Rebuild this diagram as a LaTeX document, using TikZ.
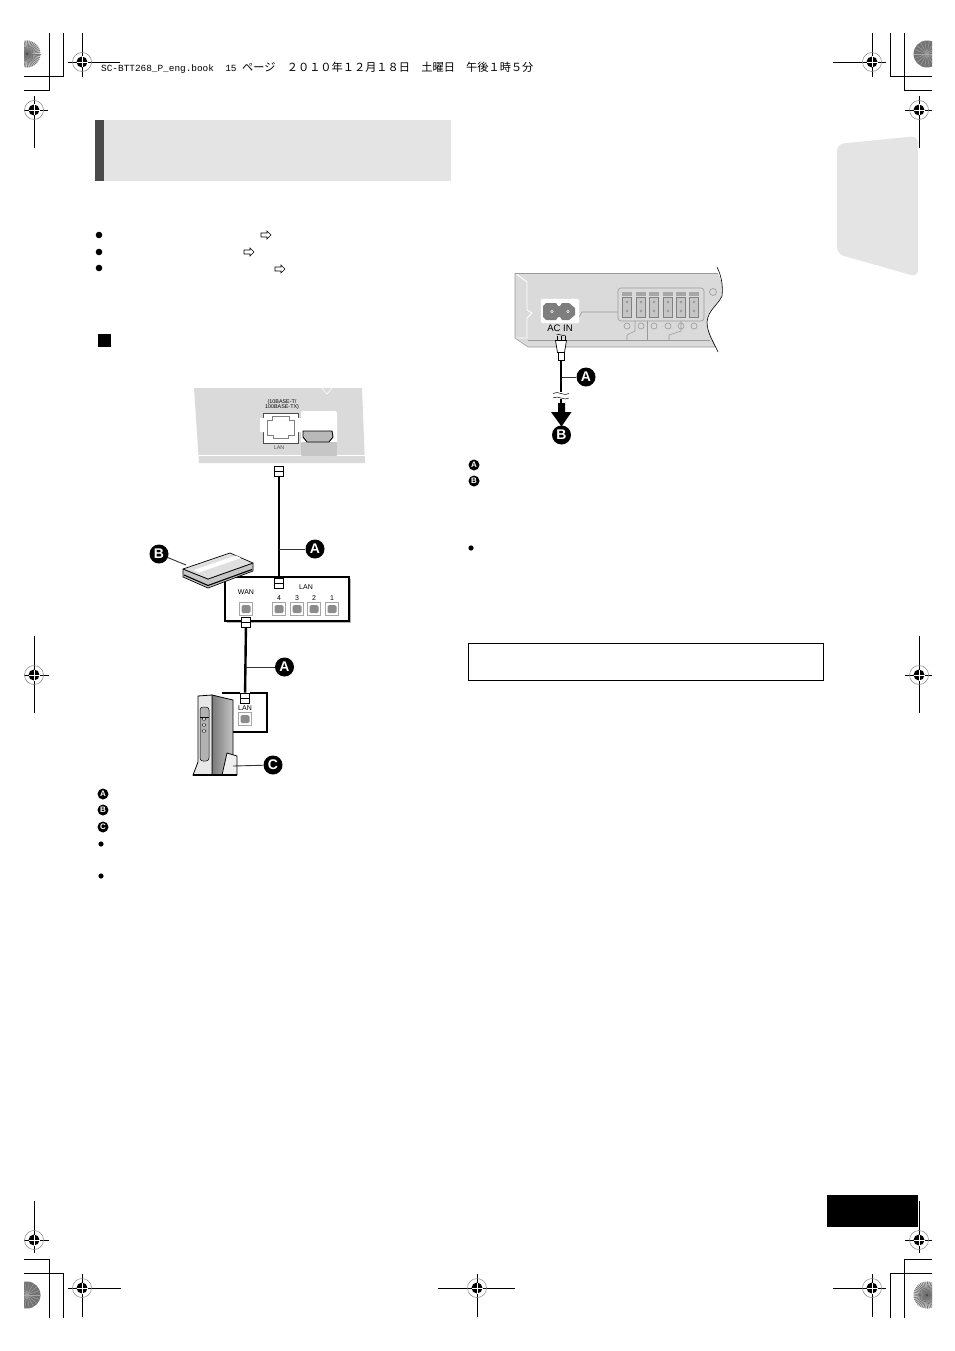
\documentclass[tikz,border=0pt]{standalone}
\usepackage{fontspec}
\setmainfont{Liberation Sans}
\newfontfamily\cjk{Noto Sans CJK JP}
\newfontfamily\headmono{Liberation Mono}
\usetikzlibrary{arrows,shapes,calc}
\definecolor{panelgray}{HTML}{DADADA}
\definecolor{headgray}{HTML}{E4E4E4}
\definecolor{bardark}{HTML}{4A4A4A}
\definecolor{sockgray}{HTML}{8C8C8C}
\tikzstyle{badge}=[circle, fill=black, text=white, inner sep=0pt
,minimum size=19pt, font=\bfseries\fontsize{14}{14}\selectfont
]
\tikzstyle{minibadge}=[circle, fill=black, text=white, inner sep=0pt
,minimum size=11pt, font=\bfseries\fontsize{8}{8}\selectfont
]
\tikzstyle{plug}=[rectangle, draw, fill=white, line width=0.8pt, inner sep=0pt
,minimum width=9pt, minimum height=10pt
]
\tikzstyle{port}=[rectangle, draw=gray!70, fill=white, line width=0.7pt, inner sep=0pt
,minimum size=12.5pt
]
\tikzstyle{cable} = [draw,line width=2.4pt,-]
\tikzstyle{leader} = [draw,line width=0.9pt,black!80,-]
\tikzstyle{regline} = [draw,line width=0.9pt,-]
\tikzstyle{cropline} = [draw,line width=1pt,-]
\tikzstyle{thin gray} = [draw,line width=0.6pt,gray!80,-]
\tikzstyle{tiny} = [inner sep=0pt, font=\fontsize{5.4}{5.4}\selectfont]
\tikzstyle{smalltext} = [inner sep=0pt, font=\fontsize{7}{7}\selectfont]
\tikzstyle{refarrow} = [draw,fill=white,line width=0.6pt,line join=miter]
\begin{document}
\begin{tikzpicture}[x=1pt,y=-1pt]
    \useasboundingbox (0,0) rectangle (954,1351);
    % Draw the gray fields first
    \fill[headgray] (104,120) rectangle (451,181);
    \fill[bardark] (95,120) rectangle (104,181);
    \fill[headgray,rounded corners=7pt] (837,144) -- (918,136) -- (918,277) -- (837,254) -- cycle;
    \fill[black] (827,1195) rectangle (918,1227);

    % Crop lines
    \foreach \a/\b/\c in {49/91/24, 63/77/24}
        \path[cropline] (\a,33) -- (\a,\b) -- (\c,\b);
    \foreach \a/\b in {890/77, 904/91}
        \path[cropline] (\a,33) -- (\a,\b) -- (932,\b);
    \foreach \a/\b in {49/1259, 63/1273}
        \path[cropline] (\a,1318) -- (\a,\b) -- (24,\b);
    \foreach \a/\b in {890/1273, 904/1259}
        \path[cropline] (\a,1318) -- (\a,\b) -- (932,\b);

    % Corner discs, cut off at the sheet edge
    \begin{scope}
        \clip (24,0) rectangle (932,1351);
        \foreach \cx/\cy in {27/54, 927/1295} {
            \fill[gray!35] (\cx,\cy) circle (13.5);
            \foreach \ang in {0,8,...,352}
                \draw[gray!90!black,line width=0.7pt] (\cx,\cy) -- ++(\ang:13.5);
            \fill[black!70] (\cx,\cy) circle (1.5);
        }
        \foreach \cx/\cy in {927/54, 27/1295} {
            \fill[black!55] (\cx,\cy) circle (13.5);
            \foreach \ang in {0,20,...,340}
                \draw[gray!70,line width=0.4pt] (\cx,\cy) -- ++(\ang:13.5);
        }
    \end{scope}

    % Registration marks
    \foreach \mx/\my/\mw/\me/\mn/\ms in {82/62/14/38/29/15, 34/110/10/14/14/38, 872/62/39/14/29/15, 919/110/14/13/14/38,
            34/675/10/15/39/38, 919/675/14/13/39/38, 34/1240/10/15/39/13, 919/1240/14/13/39/13,
            82/1288/14/39/14/29, 872/1288/39/14/14/29, 477/1288/39/38/14/29} {
        \path[regline] (\mx-\mw,\my) -- (\mx+\me,\my);
        \path[regline] (\mx,\my-\mn) -- (\mx,\my+\ms);
        \draw[gray,line width=0.5pt] (\mx,\my) circle (9.5);
        \fill (\mx,\my) circle (5.5);
        \draw[white,line width=0.5pt] (\mx-5.5,\my) -- (\mx+5.5,\my) (\mx,\my-5.5) -- (\mx,\my+5.5);
    }

    % Running head
    \node[anchor=west,inner sep=0pt] (runhead) at (101,67.5) {\fontsize{9.4}{11}\headmono SC-BTT268\_P\_eng.book~~15~\fontsize{11.2}{11}\cjk ページ\headmono\fontsize{9.4}{11}\selectfont~~\fontsize{11.2}{11}\cjk ２０１０年１２月１８日\headmono\fontsize{9.4}{11}\selectfont~~\fontsize{11.2}{11}\cjk 土曜日\headmono\fontsize{9.4}{11}\selectfont~~\fontsize{11.2}{11}\cjk 午後１時５分};

    % Bullets and small marks of the text column
    \foreach \pos in {(99,235), (99,252), (99,268)}
        \fill \pos circle (3.3);
    \foreach \pos in {(101,844), (101,876), (471,548)}
        \fill \pos circle (2.6);
    \fill (98,334) rectangle (111,347);
    \foreach \ax/\ay in {261/235, 244/252, 275/269}
        \path[refarrow] (\ax,\ay-2) -- (\ax+6,\ay-2) -- (\ax+6,\ay-4) -- (\ax+10,\ay) -- (\ax+6,\ay+4) -- (\ax+6,\ay+2) -- (\ax,\ay+2) -- cycle;

    % The player's rear panel
    \fill[panelgray] (194,388) -- (362,388) -- (365,463) -- (199,463) -- cycle;
    \draw[white,line width=1pt] (198,455) -- (365,455);
    \draw[white,line width=0.6pt] (322,388) -- (327,394) -- (332,388);
    \fill[white,rounded corners=2pt] (301,411) rectangle (337,456);
    \fill[gray!45,rounded corners=1pt] (301,442) rectangle (337,456);
    \filldraw[fill=gray!55,draw=black,line width=0.9pt] (303,431) -- (332,431) -- (333,437) -- (329,442) -- (307,442) -- (303,437) -- cycle;
    \node[rectangle,draw=black!70,fill=white,line width=0.6pt,inner sep=0pt,minimum width=35pt,minimum height=30pt] (lanjack) at (280.5,428) {};
    \fill[white] (260,418) rectangle (265,432) (296,418) rectangle (301,432);
    \draw[gray,line width=0.7pt] (267,435) -- (267,420) -- (272,420) -- (272,416) -- (289,416) -- (289,420) -- (294,420) -- (294,435) -- (288,435) -- (288,438) -- (273,438) -- (273,435) -- cycle;
    \node[tiny] (baset) at (282,402) {(10BASE-T/};
    \node[tiny] (basetx) at (282,407.5) {100BASE-TX)};
    \node[tiny,text=black!70] (lanlabel) at (279,448) {LAN};

    % Router panel
    \fill[gray!60] (226.5,578.5) rectangle (351,623);
    \node[rectangle,draw,fill=white,line width=1.3pt,inner sep=0pt,minimum width=124pt,minimum height=44pt] (router) at (287,599) {};
    \node[smalltext] (wanlabel) at (246,592.5) {WAN};
    \node[smalltext] (routerlan) at (306,587) {LAN};
    \foreach \pos/\name/\num in {{(279,609)/lan4/4}, {(297,609)/lan3/3}, {(314,609)/lan2/2}, {(332,609)/lan1/1}} {
        \node[port] (\name) at \pos {};
        \fill[sockgray,rounded corners=1.5pt] ($(\name.center)+(-4.5,-4)$) rectangle ($(\name.center)+(4.5,4)$);
        \node[smalltext] at ($(\name.center)+(0,-11)$) {\num};
    }
    \node[port] (wan) at (246,609) {};
    \fill[sockgray,rounded corners=1.5pt] (241.5,605) rectangle (250.5,613);

    % Modem
    \filldraw[fill=gray!45,draw=black,line width=0.7pt,line join=round] (183,569) -- (183,577) -- (208,588) -- (253,571) -- (253,563) -- (208,579) -- cycle;
    \draw[line width=1.1pt] (184,575) -- (208,585.5) -- (252,569.5);
    \filldraw[fill=gray!25,draw=black,line width=0.7pt,line join=round] (183,569) -- (230,553) -- (253,563) -- (208,579) -- cycle;
    \fill[white] (194,570) -- (236,555.5) -- (241,558) -- (199,572.5) -- cycle;

    % Cables with their plugs
    \foreach \pos/\name in {{(279,471)/plugA}, {(279,583)/plugB}, {(246,622)/plugC}, {(245,698)/plugD}} {
        \node[plug] (\name) at \pos {};
        \draw[line width=0.5pt] (\name.west) -- (\name.east);
    }
    \path[cable] (plugA) -- (plugB);
    \path[cable] (plugC) -- (plugD);
    \coordinate (tapA) at (279,549);
    \coordinate (tapC) at (245.5,667);

    % Wall unit with its LAN box
    \draw[line width=1.2pt] (240,693) -- (222,693);
    \draw[line width=1.2pt] (250,693) -- (267,693) -- (267,732) -- (226,732);
    \node[smalltext] (walllan) at (245,708) {LAN};
    \node[port] (wallport) at (245,719) {};
    \fill[sockgray,rounded corners=1.5pt] (240.5,715) rectangle (249.5,723);
    \shade[left color=gray!95!black,right color=gray!45,draw=black,line width=0.8pt] (212,695) -- (233,700) -- (233,775) -- (212,775) -- cycle;
    \filldraw[fill=gray!18,draw=black,line width=0.8pt] (198,696) -- (212,695) -- (212,775) -- (193,775) -- (198,762) -- cycle;
    \filldraw[fill=gray!60,draw=black,line width=0.5pt,rounded corners=3pt] (200,761) -- (200,707) -- (209,707) -- (209,761) -- cycle;
    \draw[line width=0.5pt] (200,717) -- (209,717);
    \foreach \oy in {719,725,731}
        \draw[line width=0.4pt,fill=gray!20] (204,\oy) ellipse (2 and 1.3);
    \filldraw[fill=gray!12,draw=black,line width=0.8pt] (227,753) -- (237,756) -- (237,775) -- (222,775) -- cycle;
    \draw[line width=1.1pt] (193,775) -- (237,775);
    \coordinate (tapB) at (186,565);
    \coordinate (tapW) at (233,766);

    % Amplifier rear panel
    \fill[panelgray] (515,273) -- (718,273) -- (722,283) -- (722,296) -- (708,315) -- (707,327) -- (716,347) -- (528,347) -- (515,338) -- cycle;
    \draw[white,line width=0.9pt] (515,273) -- (527,282) -- (527,310) -- (532,313) -- (527,318) -- (527,338) -- (515,338);
    \draw[thin gray] (515,273) -- (718,273);
    \draw[thin gray] (515,273) -- (515,338) -- (528,347) -- (716,347);
    \draw[thin gray] (528,340) -- (710,340);
    \draw[line width=0.6pt] (717,267) .. controls (722,277) and (723,287) .. (722,296) .. controls (718,305) and (708,310) .. (707,322) .. controls (707,333) and (714,343) .. (718,352);
    \draw[thin gray] (579,317) -- (582,312) -- (618,312);
    \draw[white,fill=white,rounded corners=1.5pt] (541,299) rectangle (579,323);
    \fill[sockgray!90!black] (546,303) -- (556,303) -- (558,306) -- (560,306) -- (562,303) -- (569,303) -- (575,308) -- (575,315) -- (569,320) -- (562,320) -- (560,317) -- (558,317) -- (556,320) -- (546,320) -- (543,317) -- (543,306) -- cycle;
    \foreach \pos in {(552,311.5), (568,311.5)}
        \draw[white,line width=0.5pt,fill=black!60] \pos circle (1.3);
    \node[inner sep=0pt,font=\fontsize{9.5}{9.5}\selectfont] (acin) at (560,328) {AC IN};
    \draw[thin gray,fill=panelgray,rounded corners=3pt] (618,288) rectangle (704,321);
    \foreach \tx in {627,641,654,668,681,694} {
        \fill[gray!70] (\tx-5,292) rectangle (\tx+5,296);
        \filldraw[fill=gray!45,draw=gray,line width=0.4pt] (\tx-4.5,297) rectangle (\tx+4.5,317);
        \draw[gray!90,line width=0.4pt,fill=white] (\tx,302) circle (1) (\tx,311) circle (1);
        \draw[thin gray] (\tx,326) circle (3);
    }
    \draw[thin gray] (713,292) circle (3.5);
    \draw[thin gray] (635,321) -- (635,331) -- (627,335) -- (627,340);
    \draw[thin gray] (647,321) -- (647,340);
    \draw[thin gray] (681,321) -- (681,331) -- (669,335) -- (669,340);

    % Mains lead
    \filldraw[fill=white,line width=0.7pt] (555.5,340.5) -- (566.5,340.5) -- (564.5,352.5) -- (557.5,352.5) -- cycle;
    \draw[line width=0.7pt] (557,340.5) -- (557,336) (561,340.5) -- (561,336) (565,340.5) -- (565,336);
    \draw[line width=0.5pt] (556.5,335) .. controls (559,333) and (563,337) .. (565.5,335);
    \node[rectangle,fill=white,draw,line width=0.7pt,inner sep=0pt,minimum width=6pt,minimum height=8pt] (plugTail) at (561,356) {};
    \coordinate (leadEnd) at (561,404);
    \path[cable] (plugTail) -- (leadEnd);
    \fill[white] (552,392) rectangle (570,399);
    \draw[line width=0.5pt] (553,393.5) .. controls (558,390) and (564,397) .. (569,393.5);
    \draw[line width=0.5pt] (553,398) .. controls (558,394.5) and (564,401.5) .. (569,398);
    \fill (558,403) -- (565,403) -- (565,412) -- (571.5,412) -- (561.5,426.5) -- (551,412) -- (558,412) -- cycle;
    \coordinate (tapM) at (561.5,377);

    % Letter badges and their leaders
    \foreach \pos/\name/\txt in {{(315,549)/badgeA/A}, {(159,554)/badgeB/B}, {(284.5,667)/badgeC/A}, {(273,765)/badgeD/C}, {(586,377)/badgeE/A}, {(561.5,435)/badgeF/B}}
        \node[badge] (\name) at \pos {\txt};
    \foreach \source/ \dest in {tapA/badgeA, tapB/badgeB, tapC/badgeC, tapW/badgeD, tapM/badgeE}
        \path[leader] (\source) -- (\dest);
    \foreach \pos/\name/\txt in {{(103,794)/keyA/A}, {(103,810)/keyB/B}, {(103,827)/keyC/C}, {(474,465)/keyD/A}, {(474,481)/keyE/B}}
        \node[minibadge] (\name) at \pos {\txt};

    % Empty note frame
    \draw[line width=0.9pt] (468,643) rectangle (823,680);
\end{tikzpicture}
\end{document}
